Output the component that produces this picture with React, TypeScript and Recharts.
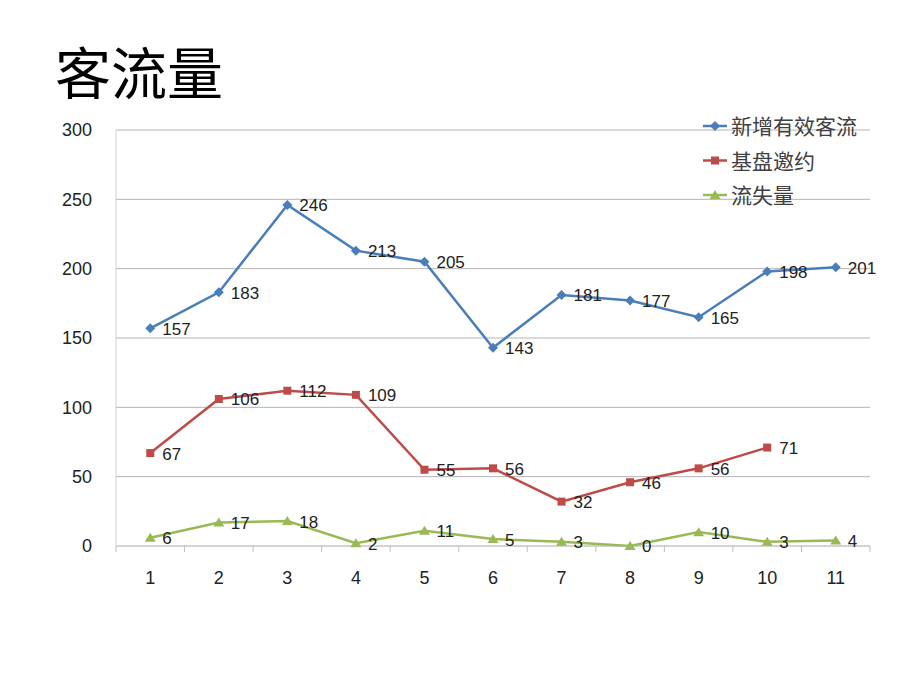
import { LineChart, Line, XAxis, YAxis, CartesianGrid } from "recharts";

const days = ["1", "2", "3", "4", "5", "6", "7", "8", "9", "10", "11"];
const newFlow = [157, 183, 246, 213, 205, 143, 181, 177, 165, 198, 201];
const baseInvite = [67, 106, 112, 109, 55, 56, 32, 46, 56, 71, null];
const lost = [6, 17, 18, 2, 11, 5, 3, 0, 10, 3, 4];
const yTicks = [0, 50, 100, 150, 200, 250, 300];

const series = [
  { key: "newFlow", name: "新增有效客流", color: "#4a7ebb", shape: "diamond" },
  { key: "baseInvite", name: "基盘邀约", color: "#be4b48", shape: "square" },
  { key: "lost", name: "流失量", color: "#98b954", shape: "triangle" },
];

const data = days.map((d, i) => ({
  day: d,
  newFlow: newFlow[i],
  baseInvite: baseInvite[i],
  lost: lost[i],
}));

const FONT = "'Liberation Sans', Arial, sans-serif";
const CJK = "'Noto Sans CJK SC', sans-serif";
const BAND = 754 / 11;

function Marker({ cx, cy, shape, color }: any) {
  if (cx == null || cy == null) return null;
  if (shape === "diamond")
    return <path d={`M${cx},${cy - 5}L${cx + 5},${cy}L${cx},${cy + 5}L${cx - 5},${cy}Z`} fill={color} />;
  if (shape === "square")
    return <rect x={cx - 4} y={cy - 4} width={8} height={8} fill={color} />;
  return <path d={`M${cx},${cy - 5}L${cx + 5.5},${cy + 4}L${cx - 5.5},${cy + 4}Z`} fill={color} />;
}

const makeDot = (shape: string, color: string) => (p: any) =>
  <Marker key={`${shape}-${p.index}`} cx={p.cx} cy={p.cy} shape={shape} color={color} />;

const ValueLabel = (p: any) => {
  if (p.value == null) return null;
  return (
    <text x={p.x + 12} y={p.y + 2} fontSize={17} fontFamily={FONT} fill="#222" dominantBaseline="middle">
      {p.value}
    </text>
  );
};

const XTick = (p: any) => {
  const { x, y, payload, index } = p;
  const last = index === days.length - 1;
  return (
    <g>
      <line x1={x - BAND / 2} x2={x - BAND / 2} y1={y - 8} y2={y - 2} stroke="#bfbfbf" />
      {last && <line x1={x + BAND / 2} x2={x + BAND / 2} y1={y - 8} y2={y - 2} stroke="#bfbfbf" />}
      <text x={x} y={y + 30} textAnchor="middle" fontSize={18} fontFamily={FONT} fill="#222">
        {payload.value}
      </text>
    </g>
  );
};

const LegendBox = () => (
  <svg width={215} height={130} style={{ position: "absolute", left: 700, top: 100 }}>
    {series.map((s, i) => {
      const cy = 26 + i * 34.5;
      return (
        <g key={s.key}>
          <line x1={3} x2={27} y1={cy} y2={cy} stroke={s.color} strokeWidth={2.5} />
          <Marker cx={15} cy={cy} shape={s.shape} color={s.color} />
          <text x={31} y={cy + 8} fontSize={21} fontFamily={CJK} fill="#404040">
            {s.name}
          </text>
        </g>
      );
    })}
  </svg>
);

export default function App() {
  return (
    <div style={{ position: "absolute", left: 0, top: 0, width: 920, height: 690, background: "#fff" }}>
      <div style={{ position: "absolute", left: 55, top: 34, fontSize: 56, fontFamily: CJK, color: "#000", lineHeight: "72px" }}>
        客流量
      </div>
      <LineChart width={920} height={690} data={data} margin={{ top: 130, right: 50, bottom: 104, left: 56 }}>
        <CartesianGrid vertical={false} stroke="#b4b4b4" />
        <XAxis
          dataKey="day"
          padding={{ left: BAND / 2, right: BAND / 2 }}
          axisLine={{ stroke: "#bfbfbf", strokeDasharray: "1 1" }}
          tickLine={false}
          tick={<XTick />}
          height={40}
          interval={0}
        />
        <YAxis
          domain={[0, 300]}
          ticks={yTicks}
          width={60}
          axisLine={{ stroke: "#d0d0d0" }}
          tickLine={false}
          tick={{ fontSize: 18, fontFamily: FONT, fill: "#222" }}
          tickMargin={18}
        />
        {series.map((s) => (
          <Line
            key={s.key}
            dataKey={s.key}
            name={s.name}
            stroke={s.color}
            strokeWidth={2.5}
            dot={makeDot(s.shape, s.color)}
            activeDot={false}
            label={<ValueLabel />}
            isAnimationActive={false}
            connectNulls={false}
          />
        ))}
      </LineChart>
      <LegendBox />
    </div>
  );
}
